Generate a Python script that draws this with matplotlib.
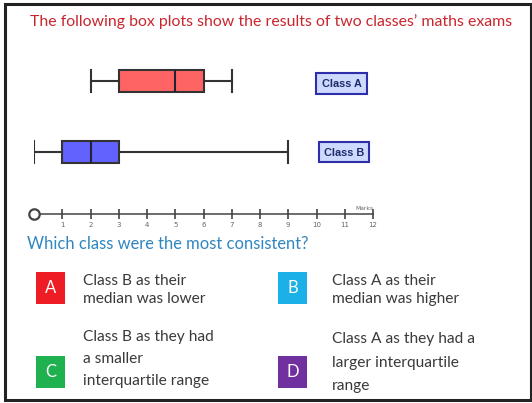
import matplotlib
matplotlib.use("Agg")
import matplotlib.pyplot as plt
from matplotlib.patches import Rectangle

# ---- data ----
class_labels = ["Class B", "Class A"]
whisker_low = [0, 2]
q1_vals = [1, 3]
medians = [2, 5]
q3_vals = [3, 6]
whisker_high = [9, 7]
box_colors = ["#6262ff", "#ff6464"]
tick_values = list(range(1, 13))

title_text = "The following box plots show the results of two classes\u2019 maths exams"
question_text = "Which class were the most consistent?"
option_letters = ["A", "B", "C", "D"]
option_colors = ["#ee1c25", "#1cb0e8", "#1fb04f", "#7030a0"]
option_texts = [
    "Class B as their\nmedian was lower",
    "Class A as their\nmedian was higher",
    "Class B as they had\na smaller\ninterquartile range",
    "Class A as they had a\nlarger interquartile\nrange",
]

W, H = 532, 403
fig = plt.figure(figsize=(W / 100, H / 100), dpi=100)
fig.patch.set_facecolor("white")

bg = fig.add_axes([0, 0, 1, 1])
bg.set_xlim(0, W)
bg.set_ylim(H, 0)
bg.axis("off")

# outer frame
bg.add_patch(Rectangle((5, 4), 526, 396, fill=False, edgecolor="#222222", lw=2.2, zorder=1))

FONT = "Lato"

bg.text(271, 22, title_text, color="#c8262e", fontsize=11.4, family=FONT,
        ha="center", va="center")
bg.text(27, 244, question_text, color="#2f86c1", fontsize=11.9, family=FONT,
        ha="left", va="center")

# ---- box plot axes (pixel mapping) ----
x0, x1 = 34, 373
ytop, ybot = 60, 214
ax = fig.add_axes([x0 / W, (H - ybot) / H, (x1 - x0) / W, (ybot - ytop) / H])
ax.set_xlim(0, 12)
ax.set_ylim(0, ybot - ytop)
ax.patch.set_alpha(0)

stats = []
for i in range(len(class_labels)):
    stats.append(dict(whislo=whisker_low[i], q1=q1_vals[i], med=medians[i],
                      q3=q3_vals[i], whishi=whisker_high[i], fliers=[],
                      label=class_labels[i]))
positions = [ybot - 151.5, ybot - 81]
bp = ax.bxp(stats, positions=positions, widths=22, capwidths=22,
            orientation="horizontal", patch_artist=True, showfliers=False,
            boxprops=dict(edgecolor="#333333", linewidth=1.5),
            medianprops=dict(color="#222233", linewidth=1.5),
            whiskerprops=dict(color="#333333", linewidth=1.5),
            capprops=dict(color="#333333", linewidth=1.5),
            manage_ticks=False)
for patch, c in zip(bp["boxes"], box_colors):
    patch.set_facecolor(c)

for s in ["left", "top", "right"]:
    ax.spines[s].set_visible(False)
ax.spines["bottom"].set_color("#444444")
ax.spines["bottom"].set_linewidth(1.1)
ax.set_yticks([])
ax.set_xticks(tick_values)
ax.set_xticklabels([str(v) for v in tick_values])
ax.tick_params(axis="x", direction="inout", length=7, width=1.2, color="#444444",
               labelsize=5, labelcolor="#666666", pad=2.5)
ax.plot([0], [0], "o", mfc="white", mec="#444444", mew=1.6, ms=7.5,
        clip_on=False, zorder=5)
ax.text(12, 3.5, "Marks", fontsize=4.3, color="#666666", ha="right", va="bottom")

# class labels
label_boxes = [(319, 142, 50, 20), (316, 73, 51, 21)]
for (lx, ly, lw_, lh), lab in zip(label_boxes, class_labels):
    bg.add_patch(Rectangle((lx, ly), lw_, lh, facecolor="#cdd9ff",
                           edgecolor="#2e2ea8", lw=1.5, zorder=3))
    bg.text(lx + lw_ / 2, ly + lh / 2 + 0.5, lab, fontsize=7.8, fontweight="bold",
            color="#1c2a6a", family="Liberation Sans", ha="center", va="center",
            zorder=4)

# options
sq_pos = [(36, 272), (278, 272), (36, 356), (278, 356)]
txt_pos = [(83, 290), (332, 290), (83, 359), (332, 362.5)]
line_sp = [1.45, 1.45, 1.7, 1.85]
for letter, col, (sx, sy), (tx, ty), ls, txt in zip(option_letters, option_colors,
                                                    sq_pos, txt_pos, line_sp, option_texts):
    bg.add_patch(Rectangle((sx, sy), 29, 32, facecolor=col, edgecolor="none", zorder=3))
    bg.text(sx + 14.5, sy + 16, letter, color="white", fontsize=12, family=FONT,
            ha="center", va="center", zorder=4)
    bg.text(tx, ty, txt, color="#3a3a3a", fontsize=11.2, family=FONT,
            ha="left", va="center", linespacing=ls)

fig.savefig("out.png", dpi=100, facecolor="white")
